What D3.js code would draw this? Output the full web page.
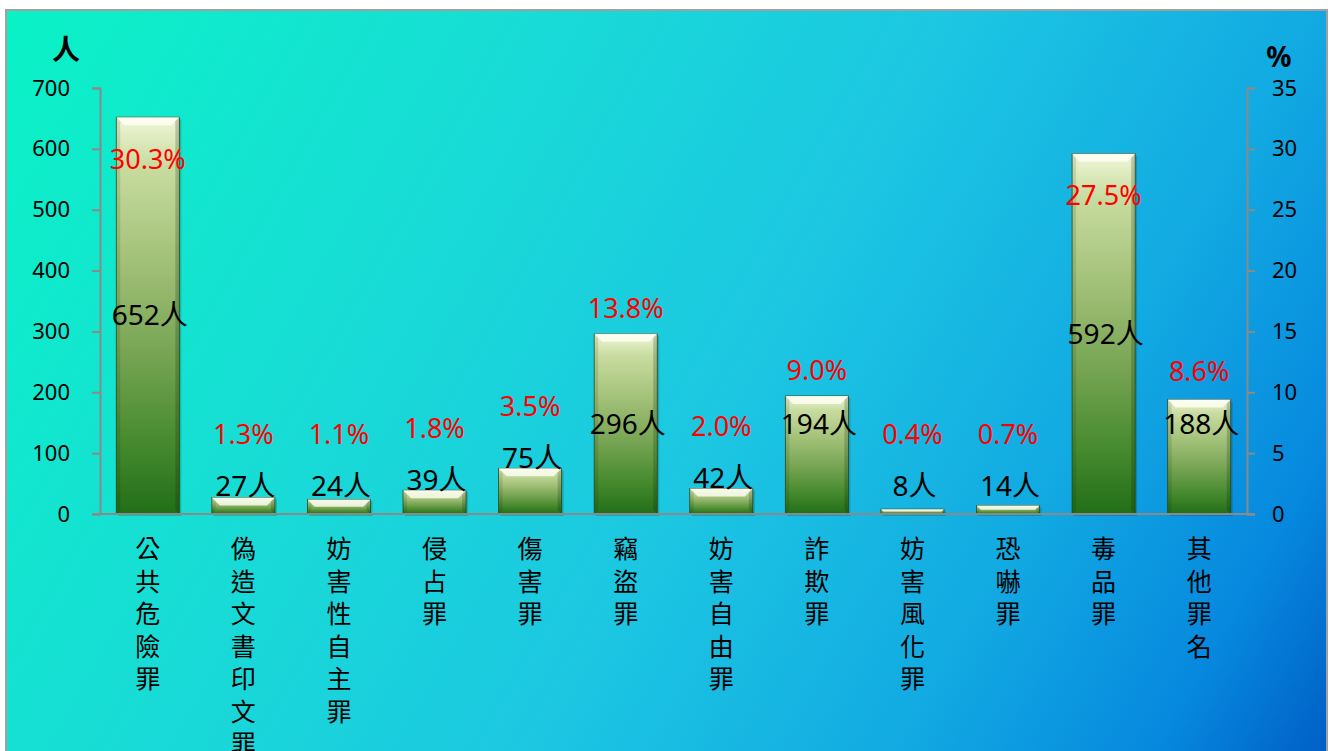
<!DOCTYPE html>
<html>
<head>
<meta charset="utf-8">
<script src="https://cdn.jsdelivr.net/npm/d3@7"></script>
<style>
  html, body { margin: 0; padding: 0; background: #fff; }
  #chart { width: 1333px; height: 751px; }
  text { font-family: "Noto Sans", "Noto Sans CJK TC", sans-serif; }
</style>
</head>
<body>
<div id="chart"></div>
<script>
const categories = ['公共危險罪','偽造文書印文罪','妨害性自主罪','侵占罪','傷害罪','竊盜罪','妨害自由罪','詐欺罪','妨害風化罪','恐嚇罪','毒品罪','其他罪名'];
const counts = [652, 27, 24, 39, 75, 296, 42, 194, 8, 14, 592, 188];
const percents = [30.3, 1.3, 1.1, 1.8, 3.5, 13.8, 2.0, 9.0, 0.4, 0.7, 27.5, 8.6];
const leftTicks = [0, 100, 200, 300, 400, 500, 600, 700];
const rightTicks = [0, 5, 10, 15, 20, 25, 30, 35];

const width = 1333, height = 751;
const svg = d3.select('#chart').append('svg').attr('width', width).attr('height', height);
const defs = svg.append('defs');

// background gradient (teal top-left to blue bottom-right)
const bg = defs.append('linearGradient').attr('id', 'bg')
  .attr('gradientUnits', 'userSpaceOnUse')
  .attr('x1', 6).attr('y1', 10).attr('x2', 1327).attr('y2', 760);
[[0, '#0af2c6'], [0.3, '#18dcd6'], [0.55, '#1cc6e2'], [0.75, '#12aae2'], [0.9, '#0688de'], [1, '#005ec4']]
  .forEach(([o, c]) => bg.append('stop').attr('offset', o).attr('stop-color', c));

// bar gradient (cream top to dark green bottom)
const bar = defs.append('linearGradient').attr('id', 'bar')
  .attr('x1', 0).attr('y1', 0).attr('x2', 0).attr('y2', 1);
[[0, '#f0f6d8'], [0.12, '#c8dca0'], [0.35, '#a4c27a'], [0.6, '#76a452'], [0.82, '#468a2e'], [1, '#226e18']]
  .forEach(([o, c]) => bar.append('stop').attr('offset', o).attr('stop-color', c));

svg.append('rect').attr('x', 6).attr('y', 10).attr('width', 1321).attr('height', 760)
  .attr('fill', 'url(#bg)').attr('stroke', '#a0a0a0').attr('stroke-width', 2);

const plot = { left: 100, right: 1247, top: 88, bottom: 514 };

const x = d3.scaleBand().domain(categories).range([plot.left, plot.right])
  .paddingInner(0.34).paddingOuter(0.17);
const y = d3.scaleLinear().domain([0, 700]).range([plot.bottom, plot.top]);
const y2 = d3.scaleLinear().domain([0, 35]).range([plot.bottom, plot.top]);

// bars
const rows = categories.map((c, i) => ({ cat: c, count: counts[i], pct: percents[i] }));
const bw = x.bandwidth();
const g = svg.append('g');

g.selectAll('rect.shadow').data(rows).enter().append('rect')
  .attr('x', d => x(d.cat) + 2).attr('y', d => y(d.count) + 2)
  .attr('width', bw).attr('height', d => y(0) - y(d.count))
  .attr('fill', 'rgba(0,40,40,0.2)');

g.selectAll('rect.bar').data(rows).enter().append('rect')
  .attr('x', d => x(d.cat)).attr('y', d => y(d.count))
  .attr('width', bw).attr('height', d => y(0) - y(d.count))
  .attr('fill', 'url(#bar)').attr('stroke', '#2f4a1c').attr('stroke-width', 0.8);

// top bevel
g.selectAll('path.bevel').data(rows).enter().append('path')
  .attr('d', d => {
    const x0 = x(d.cat), x1 = x0 + bw, t = y(d.count);
    const b = Math.min(8, (y(0) - t) / 2);
    return `M${x0},${t}L${x1},${t}L${x1 - b},${t + b}L${x0 + b},${t + b}Z`;
  })
  .attr('fill', 'rgba(255,255,245,0.8)');
g.selectAll('path.bevelR').data(rows).enter().append('path')
  .attr('d', d => {
    const x0 = x(d.cat), x1 = x0 + bw, t = y(d.count), bt = y(0);
    const b = Math.min(4, (bt - t) / 2);
    return `M${x1},${t}L${x1 - b},${t + b}L${x1 - b},${bt - b}L${x1},${bt}Z`;
  })
  .attr('fill', 'rgba(0,30,0,0.2)');
g.selectAll('path.bevelL').data(rows).enter().append('path')
  .attr('d', d => {
    const x0 = x(d.cat), t = y(d.count), bt = y(0);
    const b = Math.min(4, (bt - t) / 2);
    return `M${x0},${t}L${x0 + b},${t + b}L${x0 + b},${bt - b}L${x0},${bt}Z`;
  })
  .attr('fill', 'rgba(0,30,0,0.12)');

// axes
const axisColor = '#8a8a8a';
const styleAxis = sel => {
  sel.select('.domain').attr('stroke', axisColor).attr('stroke-width', 2);
  sel.selectAll('.tick line').attr('stroke', axisColor).attr('stroke-width', 2);
  sel.selectAll('.tick text').attr('fill', '#000').style('font-size', '22px')
    .style('font-family', '"Noto Sans", sans-serif');
};

svg.append('g').attr('transform', `translate(${plot.left},0)`)
  .call(d3.axisLeft(y).tickValues(leftTicks).tickSize(8).tickSizeOuter(8).tickPadding(22))
  .call(styleAxis);
svg.append('g').attr('transform', `translate(${plot.right},0)`)
  .call(d3.axisRight(y2).tickValues(rightTicks).tickSize(8).tickSizeOuter(8).tickPadding(17))
  .call(styleAxis);

svg.append('line').attr('x1', plot.left - 8).attr('x2', plot.right + 8)
  .attr('y1', y(0)).attr('y2', y(0)).attr('stroke', axisColor).attr('stroke-width', 2);

// axis titles
svg.append('text').attr('x', 66).attr('y', 60).attr('text-anchor', 'middle')
  .style('font-family', '"Noto Sans CJK TC", sans-serif').style('font-size', '28px').style('font-weight', 'bold')
  .text('人');
svg.append('text').attr('x', 1279).attr('y', 67).attr('text-anchor', 'middle')
  .style('font-size', '28px').style('font-weight', 'bold').text('%');

// category labels, stacked vertically
const catG = svg.append('g');
rows.forEach(d => {
  const cx = x(d.cat) + bw / 2;
  const t = catG.append('text').attr('text-anchor', 'middle')
    .style('font-family', '"Noto Sans CJK TC", sans-serif').style('font-size', '25px').attr('fill', '#000');
  Array.from(d.cat).forEach((ch, k) => {
    t.append('tspan').attr('x', cx).attr('y', 558 + k * 32.5).text(ch);
  });
});

// count labels
const countY = d => {
  const top = y(d.count), mid = (top + y(0)) / 2;
  if (y(0) - top > 100) return Math.min(mid, y(148));
  return Math.min(top - 10, y(45));
};
svg.append('g').selectAll('text').data(rows).enter().append('text')
  .attr('x', d => x(d.cat) + bw / 2 + 2).attr('y', d => countY(d))
  .attr('dy', '0.35em').attr('text-anchor', 'middle')
  .style('font-size', '28px').attr('fill', '#000')
  .text(d => d.count + '人');

// percent labels
const pctY = d => {
  const top = y(d.count);
  if (top < 200) return top + 42;
  return Math.min(top - 25, countY(d) - 52);
};
svg.append('g').selectAll('text').data(rows).enter().append('text')
  .attr('x', d => x(d.cat) + bw / 2).attr('y', d => pctY(d))
  .attr('dy', '0.35em').attr('text-anchor', 'middle')
  .style('font-size', '27px').attr('fill', '#ff0000')
  .text(d => d.pct.toFixed(1) + '%');
</script>
</body>
</html>
